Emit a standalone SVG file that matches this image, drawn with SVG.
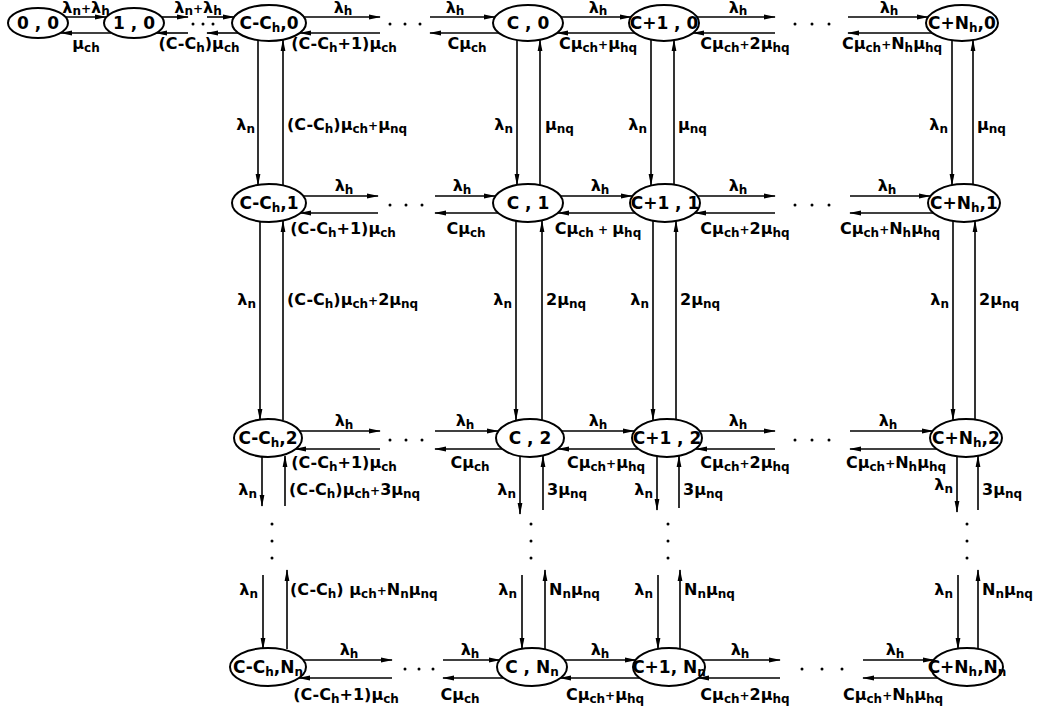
<svg xmlns="http://www.w3.org/2000/svg" width="1038" height="710" viewBox="0 0 1038 710">
<style>
  text { font-family: "DejaVu Sans", "Liberation Sans", sans-serif; font-weight: bold; fill: #000; }
  .l { font-size: 16px; }
  .m { text-anchor: middle; }
  .e { text-anchor: end; }
  .s { font-size: 12px; }
  .nt { font-size: 17px; text-anchor: middle; }
  .node ellipse { fill: #fff; stroke: #000; stroke-width: 2; }
  .conn path { fill: none; stroke: #000; stroke-width: 1.6; marker-end: url(#ah); }
  .dots circle { fill: #000; }
</style>
<defs>
  <marker id="ah" markerWidth="12" markerHeight="6" refX="11" refY="3" orient="auto" markerUnits="userSpaceOnUse">
    <path d="M0,0.6 L12,3 L0,5.4 Z" fill="#000"/>
  </marker>
</defs>
<rect width="1038" height="710" fill="#fff"/>

<!-- connectors -->
<g id="connectors" class="conn">
  <!-- row 0 horizontal -->
  <path d="M66,17 H106"/><path d="M111,33 H61"/>
  <path d="M162,17 H188"/><path d="M188,33 H156"/>
  <path d="M207,17 H234"/><path d="M238,33 H207"/>
  <path d="M304,17 H380"/><path d="M380,33 H300"/>
  <path d="M430,17 H495"/><path d="M499,33 H430"/>
  <path d="M561,17 H631"/><path d="M635,33 H557"/>
  <path d="M697,17 H775"/><path d="M775,33 H693"/>
  <path d="M848,17 H928"/><path d="M932,33 H848"/>
  <!-- row 1 horizontal -->
  <path d="M303,196 H378"/><path d="M378,213 H300"/>
  <path d="M435,196 H495"/><path d="M498,213 H435"/>
  <path d="M561,196 H632"/><path d="M635,213 H558"/>
  <path d="M698,196 H775"/><path d="M775,213 H695"/>
  <path d="M850,196 H930"/><path d="M933,213 H850"/>
  <!-- row 2 horizontal -->
  <path d="M299,431 H380"/><path d="M380,449 H295"/>
  <path d="M435,431 H498"/><path d="M502,449 H435"/>
  <path d="M562,431 H634"/><path d="M638,449 H558"/>
  <path d="M700,431 H775"/><path d="M775,449 H696"/>
  <path d="M850,431 H933"/><path d="M937,449 H850"/>
  <!-- row Nn horizontal -->
  <path d="M303,660 H392"/><path d="M392,678 H299"/>
  <path d="M443,660 H500"/><path d="M504,678 H443"/>
  <path d="M565,660 H636"/><path d="M640,678 H560"/>
  <path d="M702,660 H780"/><path d="M780,678 H698"/>
  <path d="M863,660 H934"/><path d="M938,678 H863"/>
  <!-- row 0 to row 1 -->
  <path d="M258,40 V185"/><path d="M283,185 V40"/>
  <path d="M517,40 V185"/><path d="M540,185 V40"/>
  <path d="M651,40 V185"/><path d="M674,185 V40"/>
  <path d="M952,40 V185"/><path d="M973,185 V40"/>
  <!-- row 1 to row 2 -->
  <path d="M260,221 V420"/><path d="M283,420 V221"/>
  <path d="M516,221 V420"/><path d="M542,420 V221"/>
  <path d="M653,221 V420"/><path d="M676,420 V221"/>
  <path d="M953,221 V420"/><path d="M975,420 V221"/>
  <!-- row 2 downwards -->
  <path d="M262,456 V506"/><path d="M285,506 V456"/>
  <path d="M520,456 V514"/><path d="M543,510 V456"/>
  <path d="M657,456 V510"/><path d="M679,508 V456"/>
  <path d="M957,456 V512"/><path d="M978,510 V456"/>
  <!-- into row Nn -->
  <path d="M263,575 V649"/><path d="M287,649 V570"/>
  <path d="M522,575 V649"/><path d="M545,649 V570"/>
  <path d="M658,575 V649"/><path d="M680,649 V570"/>
  <path d="M958,575 V649"/><path d="M978,649 V570"/>
</g>

<!-- ellipsis dots -->
<g id="ellipses-dots" class="dots">
  <circle cx="193" cy="24" r="1.5"/><circle cx="203" cy="24" r="1.5"/><circle cx="213" cy="24" r="1.5"/>
  <circle cx="390" cy="24" r="1.5"/><circle cx="405" cy="24" r="1.5"/><circle cx="420" cy="24" r="1.5"/>
  <circle cx="795" cy="24" r="1.5"/><circle cx="812" cy="24" r="1.5"/><circle cx="829" cy="24" r="1.5"/>
  <circle cx="390" cy="205" r="1.5"/><circle cx="406" cy="205" r="1.5"/><circle cx="422" cy="205" r="1.5"/>
  <circle cx="795" cy="205" r="1.5"/><circle cx="812" cy="205" r="1.5"/><circle cx="829" cy="205" r="1.5"/>
  <circle cx="390" cy="440" r="1.5"/><circle cx="406" cy="440" r="1.5"/><circle cx="422" cy="440" r="1.5"/>
  <circle cx="795" cy="440" r="1.5"/><circle cx="812" cy="440" r="1.5"/><circle cx="829" cy="440" r="1.5"/>
  <circle cx="405" cy="669" r="1.5"/><circle cx="419" cy="669" r="1.5"/><circle cx="433" cy="669" r="1.5"/>
  <circle cx="802" cy="669" r="1.5"/><circle cx="822" cy="669" r="1.5"/><circle cx="842" cy="669" r="1.5"/>
  <circle cx="272" cy="524" r="1.5"/><circle cx="272" cy="541" r="1.5"/><circle cx="272" cy="558" r="1.5"/>
  <circle cx="531" cy="524" r="1.5"/><circle cx="531" cy="541" r="1.5"/><circle cx="531" cy="558" r="1.5"/>
  <circle cx="668" cy="524" r="1.5"/><circle cx="668" cy="541" r="1.5"/><circle cx="668" cy="558" r="1.5"/>
  <circle cx="967" cy="524" r="1.5"/><circle cx="967" cy="541" r="1.5"/><circle cx="967" cy="558" r="1.5"/>
</g>

<!-- nodes -->
<g id="n-0-0" class="node"><ellipse cx="38" cy="23" rx="30" ry="15"/><text class="nt" x="38" y="29">0 , 0</text></g>
<g id="n-1-0" class="node"><ellipse cx="134" cy="23" rx="30" ry="15"/><text class="nt" x="134" y="29">1 , 0</text></g>
<g id="n-cch-0" class="node"><ellipse cx="269" cy="23" rx="37" ry="18"/><text class="nt" x="269" y="29">C-C<tspan class="s" dy="3">h</tspan><tspan dy="-3">,0</tspan></text></g>
<g id="n-c-0" class="node"><ellipse cx="528" cy="23" rx="35" ry="18"/><text class="nt" x="528" y="29">C , 0</text></g>
<g id="n-c1-0" class="node"><ellipse cx="664" cy="23" rx="35" ry="18"/><text class="nt" x="664" y="29">C+1 , 0</text></g>
<g id="n-cnh-0" class="node"><ellipse cx="962" cy="23" rx="36" ry="18"/><text class="nt" x="962" y="29">C+N<tspan class="s" dy="3">h</tspan><tspan dy="-3">,0</tspan></text></g>

<g id="n-cch-1" class="node"><ellipse cx="269" cy="203" rx="37" ry="19"/><text class="nt" x="269" y="209">C-C<tspan class="s" dy="3">h</tspan><tspan dy="-3">,1</tspan></text></g>
<g id="n-c-1" class="node"><ellipse cx="528" cy="203" rx="35" ry="19"/><text class="nt" x="528" y="209">C , 1</text></g>
<g id="n-c1-1" class="node"><ellipse cx="665" cy="203" rx="35" ry="19"/><text class="nt" x="665" y="209">C+1 , 1</text></g>
<g id="n-cnh-1" class="node"><ellipse cx="964" cy="203" rx="36" ry="19"/><text class="nt" x="964" y="209">C+N<tspan class="s" dy="3">h</tspan><tspan dy="-3">,1</tspan></text></g>

<g id="n-cch-2" class="node"><ellipse cx="268" cy="438" rx="34" ry="19"/><text class="nt" x="268" y="444">C-C<tspan class="s" dy="3">h</tspan><tspan dy="-3">,2</tspan></text></g>
<g id="n-c-2" class="node"><ellipse cx="530" cy="438" rx="34" ry="19"/><text class="nt" x="530" y="444">C , 2</text></g>
<g id="n-c1-2" class="node"><ellipse cx="667" cy="438" rx="35" ry="19"/><text class="nt" x="667" y="444">C+1 , 2</text></g>
<g id="n-cnh-2" class="node"><ellipse cx="966" cy="438" rx="36" ry="19"/><text class="nt" x="966" y="444">C+N<tspan class="s" dy="3">h</tspan><tspan dy="-3">,2</tspan></text></g>

<g id="n-cch-nn" class="node"><ellipse cx="268" cy="667" rx="38" ry="19"/><text class="nt" x="268" y="673">C-C<tspan class="s" dy="3">h</tspan><tspan dy="-3">,N</tspan><tspan class="s" dy="3">n</tspan></text></g>
<g id="n-c-nn" class="node"><ellipse cx="532" cy="667" rx="35" ry="19"/><text class="nt" x="532" y="673">C , N<tspan class="s" dy="3">n</tspan></text></g>
<g id="n-c1-nn" class="node"><ellipse cx="669" cy="667" rx="36" ry="19"/><text class="nt" x="669" y="673">C+1, N<tspan class="s" dy="3">n</tspan></text></g>
<g id="n-cnh-nn" class="node"><ellipse cx="967" cy="667" rx="36" ry="19"/><text class="nt" x="967" y="673">C+N<tspan class="s" dy="3">h</tspan><tspan dy="-3">,N</tspan><tspan class="s" dy="3">n</tspan></text></g>

<!-- rate labels -->
<g id="labels">
  <!-- row 0 -->
  <text class="l m" x="86" y="13">λ<tspan class="s" dy="2">n</tspan><tspan class="s" dy="-2">+</tspan>λ<tspan class="s" dy="2">h</tspan></text>
  <text class="l m" x="86" y="49">μ<tspan class="s" dy="3">ch</tspan></text>
  <text class="l m" x="198" y="13">λ<tspan class="s" dy="2">n</tspan><tspan class="s" dy="-2">+</tspan>λ<tspan class="s" dy="2">h</tspan></text>
  <text class="l m" x="199" y="49">(C-C<tspan class="s" dy="3">h</tspan><tspan dy="-3">)μ</tspan><tspan class="s" dy="3">ch</tspan></text>
  <text class="l m" x="343" y="13">λ<tspan class="s" dy="2">h</tspan></text>
  <text class="l m" x="344" y="49">(C-C<tspan class="s" dy="3">h</tspan><tspan dy="-3">+1)μ</tspan><tspan class="s" dy="3">ch</tspan></text>
  <text class="l m" x="455" y="13">λ<tspan class="s" dy="2">h</tspan></text>
  <text class="l m" x="467" y="49">Cμ<tspan class="s" dy="3">ch</tspan></text>
  <text class="l m" x="598" y="13">λ<tspan class="s" dy="2">h</tspan></text>
  <text class="l m" x="598" y="49">Cμ<tspan class="s" dy="3">ch</tspan><tspan class="s" dy="-3">+</tspan>μ<tspan class="s" dy="3">hq</tspan></text>
  <text class="l m" x="738" y="13">λ<tspan class="s" dy="2">h</tspan></text>
  <text class="l m" x="745" y="49">Cμ<tspan class="s" dy="3">ch</tspan><tspan class="s" dy="-3">+</tspan>2μ<tspan class="s" dy="3">hq</tspan></text>
  <text class="l m" x="889" y="13">λ<tspan class="s" dy="2">h</tspan></text>
  <text class="l m" x="892" y="49">Cμ<tspan class="s" dy="3">ch</tspan><tspan class="s" dy="-3">+</tspan>N<tspan class="s" dy="3">h</tspan><tspan dy="-3">μ</tspan><tspan class="s" dy="3">hq</tspan></text>

  <!-- row 1 -->
  <text class="l m" x="344" y="191">λ<tspan class="s" dy="3">h</tspan></text>
  <text class="l m" x="343" y="234">(C-C<tspan class="s" dy="3">h</tspan><tspan dy="-3">+1)μ</tspan><tspan class="s" dy="3">ch</tspan></text>
  <text class="l m" x="462" y="191">λ<tspan class="s" dy="3">h</tspan></text>
  <text class="l m" x="466" y="234">Cμ<tspan class="s" dy="3">ch</tspan></text>
  <text class="l m" x="600" y="191">λ<tspan class="s" dy="3">h</tspan></text>
  <text class="l m" x="598" y="234">Cμ<tspan class="s" dy="3">ch</tspan><tspan class="s" dy="-3"> + </tspan>μ<tspan class="s" dy="3">hq</tspan></text>
  <text class="l m" x="738" y="191">λ<tspan class="s" dy="3">h</tspan></text>
  <text class="l m" x="745" y="234">Cμ<tspan class="s" dy="3">ch</tspan><tspan class="s" dy="-3">+</tspan>2μ<tspan class="s" dy="3">hq</tspan></text>
  <text class="l m" x="887" y="191">λ<tspan class="s" dy="3">h</tspan></text>
  <text class="l m" x="890" y="234">Cμ<tspan class="s" dy="3">ch</tspan><tspan class="s" dy="-3">+</tspan>N<tspan class="s" dy="3">h</tspan><tspan dy="-3">μ</tspan><tspan class="s" dy="3">hq</tspan></text>

  <!-- row 2 -->
  <text class="l m" x="344" y="426">λ<tspan class="s" dy="3">h</tspan></text>
  <text class="l m" x="344" y="468">(C-C<tspan class="s" dy="3">h</tspan><tspan dy="-3">+1)μ</tspan><tspan class="s" dy="3">ch</tspan></text>
  <text class="l m" x="465" y="426">λ<tspan class="s" dy="3">h</tspan></text>
  <text class="l m" x="470" y="468">Cμ<tspan class="s" dy="3">ch</tspan></text>
  <text class="l m" x="598" y="426">λ<tspan class="s" dy="3">h</tspan></text>
  <text class="l m" x="606" y="468">Cμ<tspan class="s" dy="3">ch</tspan><tspan class="s" dy="-3">+</tspan>μ<tspan class="s" dy="3">hq</tspan></text>
  <text class="l m" x="738" y="426">λ<tspan class="s" dy="3">h</tspan></text>
  <text class="l m" x="745" y="468">Cμ<tspan class="s" dy="3">ch</tspan><tspan class="s" dy="-3">+</tspan>2μ<tspan class="s" dy="3">hq</tspan></text>
  <text class="l m" x="888" y="426">λ<tspan class="s" dy="3">h</tspan></text>
  <text class="l m" x="896" y="468">Cμ<tspan class="s" dy="3">ch</tspan><tspan class="s" dy="-3">+</tspan>N<tspan class="s" dy="3">h</tspan><tspan dy="-3">μ</tspan><tspan class="s" dy="3">hq</tspan></text>

  <!-- row Nn -->
  <text class="l m" x="349" y="655">λ<tspan class="s" dy="3">h</tspan></text>
  <text class="l m" x="346" y="700">(C-C<tspan class="s" dy="3">h</tspan><tspan dy="-3">+1)μ</tspan><tspan class="s" dy="3">ch</tspan></text>
  <text class="l m" x="470" y="655">λ<tspan class="s" dy="3">h</tspan></text>
  <text class="l m" x="460" y="700">Cμ<tspan class="s" dy="3">ch</tspan></text>
  <text class="l m" x="600" y="655">λ<tspan class="s" dy="3">h</tspan></text>
  <text class="l m" x="605" y="700">Cμ<tspan class="s" dy="3">ch</tspan><tspan class="s" dy="-3">+</tspan>μ<tspan class="s" dy="3">hq</tspan></text>
  <text class="l m" x="740" y="655">λ<tspan class="s" dy="3">h</tspan></text>
  <text class="l m" x="745" y="700">Cμ<tspan class="s" dy="3">ch</tspan><tspan class="s" dy="-3">+</tspan>2μ<tspan class="s" dy="3">hq</tspan></text>
  <text class="l m" x="895" y="655">λ<tspan class="s" dy="3">h</tspan></text>
  <text class="l m" x="893" y="700">Cμ<tspan class="s" dy="3">ch</tspan><tspan class="s" dy="-3">+</tspan>N<tspan class="s" dy="3">h</tspan><tspan dy="-3">μ</tspan><tspan class="s" dy="3">hq</tspan></text>

  <!-- vertical: row 0 to row 1 -->
  <text class="l e" x="255" y="130">λ<tspan class="s" dy="3">n</tspan></text>
  <text class="l" x="287" y="130">(C-C<tspan class="s" dy="3">h</tspan><tspan dy="-3">)μ</tspan><tspan class="s" dy="3">ch</tspan><tspan class="s" dy="-3">+</tspan>μ<tspan class="s" dy="3">nq</tspan></text>
  <text class="l e" x="513" y="130">λ<tspan class="s" dy="3">n</tspan></text>
  <text class="l" x="545" y="130">μ<tspan class="s" dy="3">nq</tspan></text>
  <text class="l e" x="647" y="130">λ<tspan class="s" dy="3">n</tspan></text>
  <text class="l" x="678" y="130">μ<tspan class="s" dy="3">nq</tspan></text>
  <text class="l e" x="948" y="130">λ<tspan class="s" dy="3">n</tspan></text>
  <text class="l" x="977" y="130">μ<tspan class="s" dy="3">nq</tspan></text>

  <!-- vertical: row 1 to row 2 -->
  <text class="l e" x="256" y="305">λ<tspan class="s" dy="3">n</tspan></text>
  <text class="l" x="287" y="305">(C-C<tspan class="s" dy="3">h</tspan><tspan dy="-3">)μ</tspan><tspan class="s" dy="3">ch</tspan><tspan class="s" dy="-3">+</tspan>2μ<tspan class="s" dy="3">nq</tspan></text>
  <text class="l e" x="512" y="305">λ<tspan class="s" dy="3">n</tspan></text>
  <text class="l" x="546" y="305">2μ<tspan class="s" dy="3">nq</tspan></text>
  <text class="l e" x="649" y="305">λ<tspan class="s" dy="3">n</tspan></text>
  <text class="l" x="680" y="305">2μ<tspan class="s" dy="3">nq</tspan></text>
  <text class="l e" x="949" y="305">λ<tspan class="s" dy="3">n</tspan></text>
  <text class="l" x="979" y="305">2μ<tspan class="s" dy="3">nq</tspan></text>

  <!-- vertical: row 2 downwards -->
  <text class="l e" x="257" y="495">λ<tspan class="s" dy="3">n</tspan></text>
  <text class="l" x="289" y="495">(C-C<tspan class="s" dy="3">h</tspan><tspan dy="-3">)μ</tspan><tspan class="s" dy="3">ch</tspan><tspan class="s" dy="-3">+</tspan>3μ<tspan class="s" dy="3">nq</tspan></text>
  <text class="l e" x="516" y="495">λ<tspan class="s" dy="3">n</tspan></text>
  <text class="l" x="547" y="495">3μ<tspan class="s" dy="3">nq</tspan></text>
  <text class="l e" x="653" y="495">λ<tspan class="s" dy="3">n</tspan></text>
  <text class="l" x="683" y="495">3μ<tspan class="s" dy="3">nq</tspan></text>
  <text class="l e" x="953" y="490">λ<tspan class="s" dy="3">n</tspan></text>
  <text class="l" x="982" y="495">3μ<tspan class="s" dy="3">nq</tspan></text>

  <!-- vertical: into row Nn -->
  <text class="l e" x="258" y="595">λ<tspan class="s" dy="3">n</tspan></text>
  <text class="l" x="290" y="595">(C-C<tspan class="s" dy="3">h</tspan><tspan dy="-3">) μ</tspan><tspan class="s" dy="3">ch</tspan><tspan class="s" dy="-3">+</tspan>N<tspan class="s" dy="3">n</tspan><tspan dy="-3">μ</tspan><tspan class="s" dy="3">nq</tspan></text>
  <text class="l e" x="517" y="595">λ<tspan class="s" dy="3">n</tspan></text>
  <text class="l" x="549" y="595">N<tspan class="s" dy="3">n</tspan><tspan dy="-3">μ</tspan><tspan class="s" dy="3">nq</tspan></text>
  <text class="l e" x="653" y="595">λ<tspan class="s" dy="3">n</tspan></text>
  <text class="l" x="684" y="595">N<tspan class="s" dy="3">n</tspan><tspan dy="-3">μ</tspan><tspan class="s" dy="3">nq</tspan></text>
  <text class="l e" x="953" y="595">λ<tspan class="s" dy="3">n</tspan></text>
  <text class="l" x="982" y="595">N<tspan class="s" dy="3">n</tspan><tspan dy="-3">μ</tspan><tspan class="s" dy="3">nq</tspan></text>
</g>
</svg>
